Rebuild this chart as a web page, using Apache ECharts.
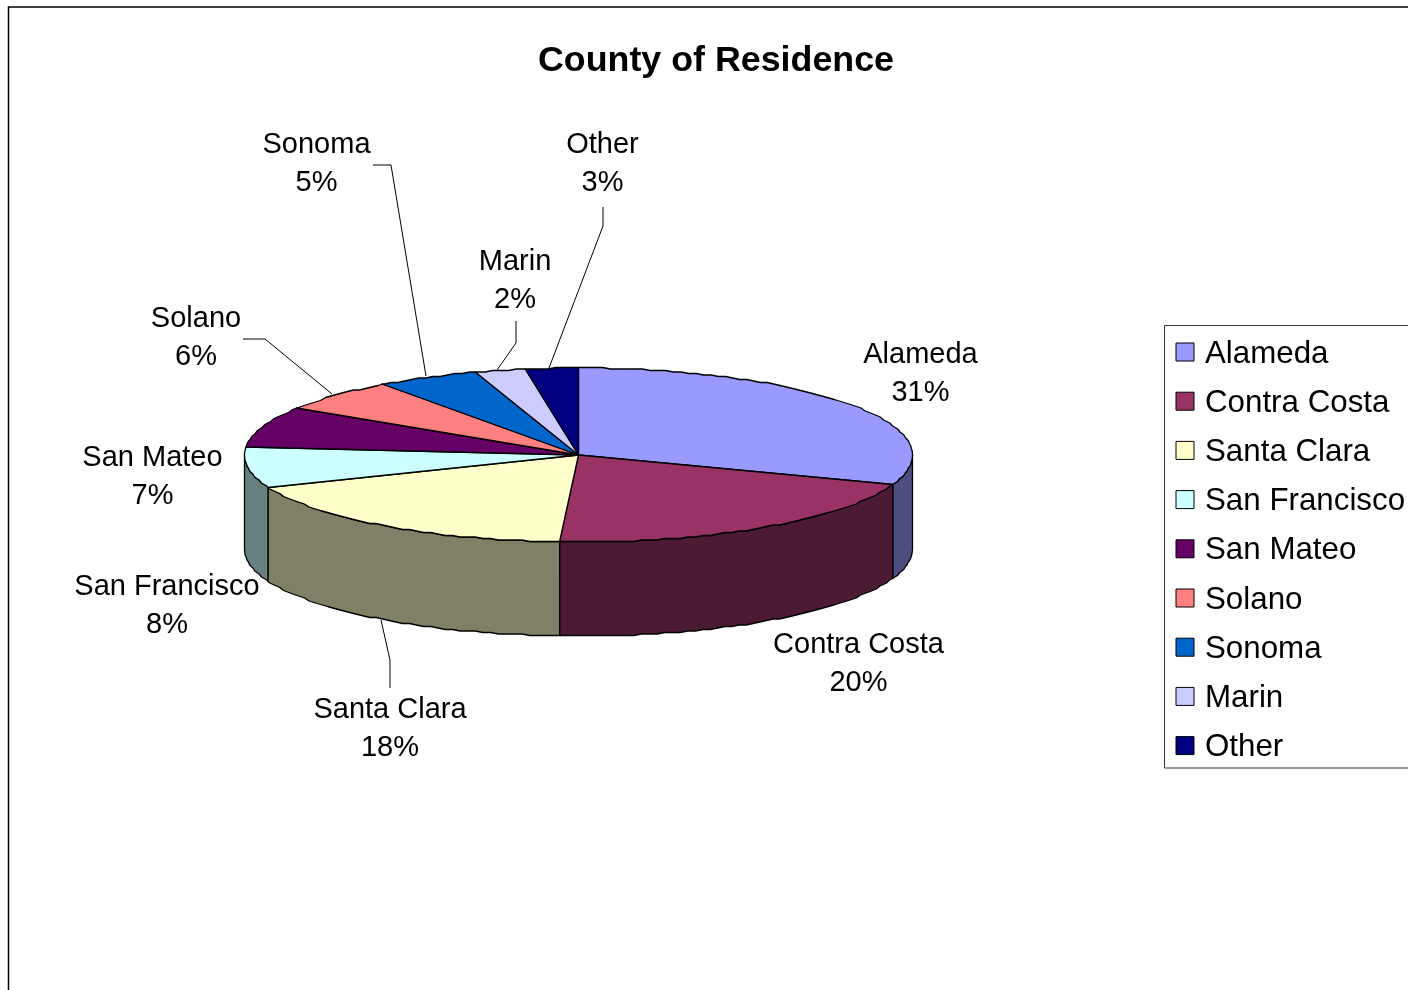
<!DOCTYPE html>
<html><head><meta charset="utf-8">
<style>html,body{margin:0;padding:0;background:#fff;overflow:hidden}#c{width:1408px;height:990px}</style>
<script src="https://cdn.jsdelivr.net/npm/echarts@6/dist/echarts.min.js"></script>
</head><body><div id="c"></div>
<script>
const categories = ['Alameda','Contra Costa','Santa Clara','San Francisco','San Mateo','Solano','Sonoma','Marin','Other'];
const shares = [30.5,20.4,18.1,7.55,7.45,6,5,2.45,2.55];
const topColors = ['#9999FF','#993366','#FFFFCC','#CCFFFF','#660066','#FF8080','#0066CC','#CCCCFF','#000080'];
const wallColors = ['#4D4D80','#4D1A33','#808066','#668080','#330033','#804040','#003366','#666680','#000040'];
const labelCenters = [[920.5,374],[858.5,664],[390,729],[167,606],[152.5,477],[196,338],[316.5,164],[515,281],[602.5,164]];
const leaderLines = [null,null,[[390,688],[390,660],[381,620]],null,null,[[243,339],[265,339],[332,394]],[[373,165],[391,165],[426,376]],[[516,321],[516,343],[497,370]],[[603,207],[603,226],[549,368]]];

const CX=578.5, CY=455, RX=334, RY=87, DEPTH=94, STEP=0.024, SNAP=1.5;
const total = shares.reduce((a,b)=>a+b,0);
function pt(t,dy){return [CX+RX*Math.sin(t), Math.round((CY-RY*Math.cos(t))/SNAP)*SNAP+(dy||0)];}
function arc(a,b,dy){const o=[pt(a,dy)];let k=Math.floor(a/STEP)+1;while(k*STEP<b){o.push(pt(k*STEP,dy));k++;}o.push(pt(b,dy));return o;}
const edges=[0];shares.forEach(v=>edges.push(edges[edges.length-1]+v/total*Math.PI*2));
const stroke={stroke:'#000',lineWidth:1.3,lineJoin:'round'};

const series = categories.map((name,i)=>({
  type:'custom',name,coordinateSystem:'none',silent:true,animation:false,clip:false,
  itemStyle:{color:topColors[i]},
  data:[[shares[i]]],
  renderItem(){
    const kids=[];
    const a=edges[i],b=edges[i+1];
    const wa=Math.max(a,Math.PI/2),wb=Math.min(b,Math.PI*1.5);
    if(wb>wa){
      const up=arc(wa,wb,0),dn=arc(wa,wb,DEPTH).reverse();
      kids.push({type:'polygon',shape:{points:up.concat(dn)},style:{fill:wallColors[i],...stroke}});
    }
    kids.push({type:'polygon',shape:{points:[[CX,CY]].concat(arc(a,b,0))},style:{fill:topColors[i],...stroke}});
    return {type:'group',children:kids};
  }
}));

// labels and leader lines, drawn above every slice
series.push({
  type:'custom',coordinateSystem:'none',silent:true,animation:false,clip:false,z:5,
  data:categories.map((c,i)=>[i]),
  renderItem(p,api){
    const i=api.value(0),kids=[];
    if(leaderLines[i])kids.push({type:'polyline',shape:{points:leaderLines[i]},style:{stroke:'#000',lineWidth:1,fill:null}});
    kids.push({type:'text',x:labelCenters[i][0],y:labelCenters[i][1],style:{text:categories[i]+'\n'+Math.round(shares[i])+'%',fill:'#000',
      font:'29px "Liberation Sans", Arial, sans-serif',lineHeight:38,align:'center',verticalAlign:'middle'}});
    return {type:'group',children:kids};
  }
});

const chart=echarts.init(document.getElementById('c'),null,{renderer:'canvas'});
const FONT='"Liberation Sans", Arial, sans-serif';
chart.setOption({
  animation:false,backgroundColor:'#fff',
  title:{text:'County of Residence',left:716,top:61,textAlign:'center',textVerticalAlign:'middle',padding:0,
    textStyle:{fontFamily:FONT,fontSize:35.8,fontWeight:'bold',color:'#000'}},
  legend:{orient:'vertical',left:1164.5,top:325.5,data:categories,icon:'rect',itemWidth:18,itemHeight:18,itemGap:14.2,
    padding:[9,20,4.9,11],backgroundColor:'#fff',borderColor:'#333',borderWidth:1,selectedMode:false,
    itemStyle:{borderColor:'#000',borderWidth:1},
    formatter:'{t|{name}}',
    textStyle:{fontFamily:FONT,fontSize:31.3,color:'#000',
      rich:{t:{fontFamily:FONT,fontSize:31.3,color:'#000',lineHeight:31,padding:[4,0,0,6]}}}},
  graphic:[{type:'rect',silent:true,z:-1,shape:{x:8.5,y:7,width:1600,height:1200},style:{fill:'#fff',stroke:'#000',lineWidth:1.5}}],
  series
});
</script></body></html>
